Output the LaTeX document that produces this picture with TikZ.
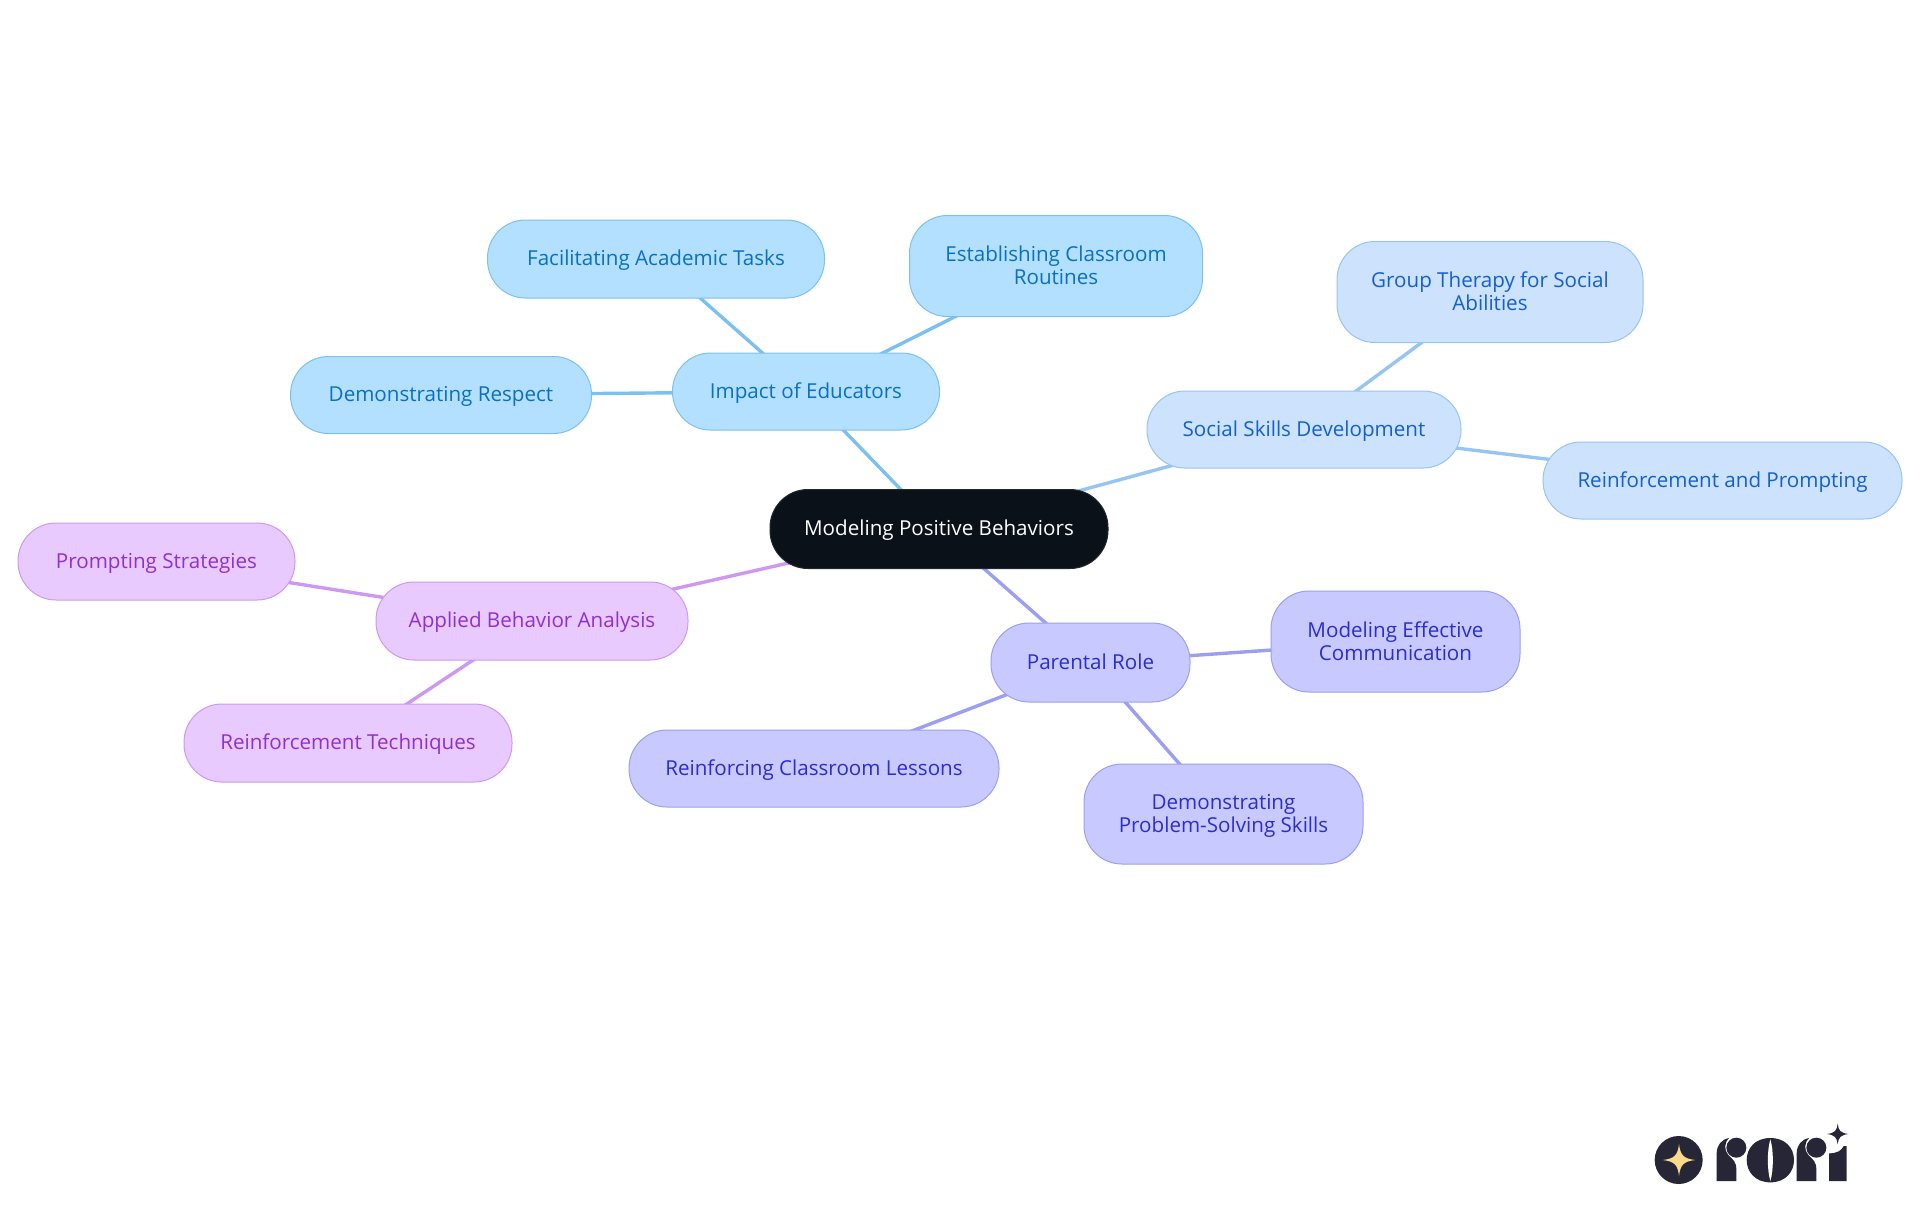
\documentclass[tikz,border=0pt]{standalone}
\usepackage{fontspec}
\setmainfont{Open Sans}
\usetikzlibrary{backgrounds}
\definecolor{rootfill}{HTML}{0B1119}
\definecolor{edfill}{HTML}{B3E0FF}\definecolor{edline}{HTML}{7CC0F2}\definecolor{edtext}{HTML}{0A70C2}
\definecolor{sofill}{HTML}{CCE2FD}\definecolor{soline}{HTML}{98C4F2}\definecolor{sotext}{HTML}{1460CC}
\definecolor{pafill}{HTML}{C8CAFF}\definecolor{paline}{HTML}{9C9EF2}\definecolor{patext}{HTML}{2C2CCF}
\definecolor{abfill}{HTML}{E8CAFF}\definecolor{abline}{HTML}{CC98F2}\definecolor{abtext}{HTML}{9030D0}
\definecolor{logodark}{HTML}{272636}\definecolor{logostar}{HTML}{FBD98B}
\newcommand{\onestrut}{\rule[-2pt]{0pt}{11.3pt}}
\newcommand{\liftstrut}{\rule{0pt}{10.3pt}}
\newcommand{\dropstrut}{\rule[-3pt]{0pt}{3pt}}
\tikzset{
 x=0.5pt,y=-0.5pt,
 base/.style={rectangle,rounded corners=19pt,inner sep=0pt,align=center,line width=0.5pt,
   font=\fontsize{10.3pt}{11.65pt}\selectfont},
 oneline/.style={execute at begin node=\onestrut},
 size/.style 2 args={minimum width=#1*0.5pt,minimum height=#2*0.5pt},
 rootn/.style={base,oneline,fill=rootfill,draw=rootfill!80!gray,text=white},
 ednode/.style={base,fill=edfill,draw=edline,text=edtext},
 sonode/.style={base,fill=sofill,draw=soline,text=sotext},
 panode/.style={base,fill=pafill,draw=paline,text=patext},
 abnode/.style={base,fill=abfill,draw=abline,text=abtext},
 edlink/.style={line width=1.7pt,draw=edline},
 solink/.style={line width=1.7pt,draw=soline},
 palink/.style={line width=1.7pt,draw=paline},
 ablink/.style={line width=1.7pt,draw=abline},
}
\begin{document}
\begin{tikzpicture}
\useasboundingbox (0,0) rectangle (1920,1215);
\node[rootn,size={338}{79}] (root) at (939,529) {Modeling Positive Behaviors};
\node[ednode,oneline,size={267}{77}] (impact) at (806,391.5) {Impact of Educators};
\node[ednode,oneline,size={337}{78}] (facil) at (656,259) {Facilitating Academic Tasks};
\node[ednode,size={293}{101}] (estab) at (1056,266) {\liftstrut Establishing Classroom\\Routines\dropstrut};
\node[ednode,oneline,size={301}{77}] (respect) at (441,395) {Demonstrating Respect};
\node[sonode,oneline,size={314}{77}] (social) at (1304,429.5) {Social Skills Development};
\node[sonode,size={306}{101}] (group) at (1490,292) {\liftstrut Group Therapy for Social\\Abilities\dropstrut};
\node[sonode,oneline,size={359}{77}] (reinfp) at (1722.5,480.5) {Reinforcement and Prompting};
\node[panode,oneline,size={199}{79}] (parent) at (1090.5,662.5) {Parental Role};
\node[panode,size={249}{101}] (comm) at (1395.5,641.5) {\liftstrut Modeling Effective\\Communication\dropstrut};
\node[panode,oneline,size={370}{77}] (lessons) at (814,768.5) {Reinforcing Classroom Lessons};
\node[panode,size={279}{100}] (solve) at (1223.5,814) {\liftstrut Demonstrating\\Problem-Solving Skills\dropstrut};
\node[abnode,oneline,size={312}{78}] (aba) at (532,621) {Applied Behavior Analysis};
\node[abnode,oneline,size={277}{77}] (prompt) at (156.5,561.5) {Prompting Strategies};
\node[abnode,oneline,size={328}{78}] (tech) at (348,743) {Reinforcement Techniques};
\begin{scope}[on background layer]
\draw[edlink] (root.center) -- (impact.center);
\draw[edlink] (impact.center) -- (facil.center);
\draw[edlink] (impact.center) -- (estab.center);
\draw[edlink] (impact.center) -- (respect.center);
\draw[solink] (root.center) -- (social.center);
\draw[solink] (social.center) -- (group.center);
\draw[solink] (social.center) -- (reinfp.center);
\draw[palink] (root.center) -- (parent.center);
\draw[palink] (parent.center) -- (comm.center);
\draw[palink] (parent.center) -- (lessons.center);
\draw[palink] (parent.center) -- (solve.center);
\draw[ablink] (root.center) -- (aba.center);
\draw[ablink] (aba.center) -- (prompt.center);
\draw[ablink] (aba.center) -- (tech.center);
\end{scope}
% logo, in the units of a 3x crop whose corner is (1620,1100)
\begin{scope}[shift={(1620,1100)},x=0.16667pt,y=-0.16667pt]
\fill[logodark] (176,180) circle[radius=72*0.16667pt];
\fill[logostar] (177,132) .. controls (181,165) and (190,176) .. (226,180) .. controls (190,184) and (181,195) .. (177,228) .. controls (173,195) and (164,184) .. (128,180) .. controls (164,176) and (173,165) .. (177,132) -- cycle;
\fill[logodark] (290,243) -- (290,160) .. controls (290,135) and (305,118) .. (327,114) .. controls (312,130) and (312,150) .. (325,165) .. controls (340,178) and (349,190) .. (349,205) -- (349,243) -- cycle;
\fill[logodark] (349,143) circle[radius=30*0.16667pt];
\fill[logodark] (451,114) .. controls (405,114) and (380,145) .. (380,180) .. controls (380,215) and (405,247) .. (451,247) .. controls (497,247) and (522,215) .. (522,180) .. controls (522,145) and (497,114) .. (451,114) -- cycle;
\fill[white] (451,118) .. controls (441,150) and (441,210) .. (451,243) .. controls (461,210) and (461,150) .. (451,118) -- cycle;
\fill[logodark] (530,243) -- (530,160) .. controls (530,135) and (545,118) .. (567,114) .. controls (552,130) and (552,150) .. (565,165) .. controls (580,178) and (589,190) .. (589,205) -- (589,243) -- cycle;
\fill[logodark] (589,143) circle[radius=30*0.16667pt];
\fill[logodark] (627,243) -- (627,160) .. controls (650,160) and (665,152) .. (671,138) -- (680,138) -- (680,243) -- cycle;
\fill[logodark] (653,71) .. controls (655,92) and (662,99) .. (685,102) .. controls (662,105) and (655,112) .. (653,133) .. controls (651,112) and (644,105) .. (621,102) .. controls (644,99) and (651,92) .. (653,71) -- cycle;
\end{scope}
\end{tikzpicture}
\end{document}
